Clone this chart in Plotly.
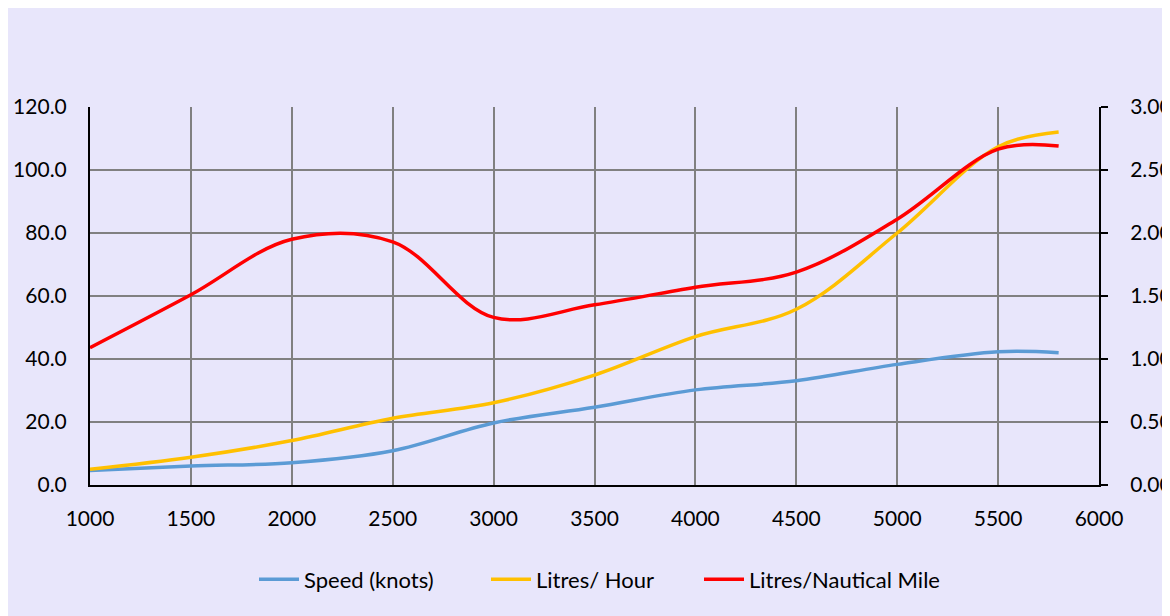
import plotly.graph_objects as go

rpm = [1000, 1500, 2000, 2500, 3000, 3500, 4000, 4500, 5000, 5500, 5800]
speed_knots = [4.6, 6.0, 7.1, 10.9, 19.7, 24.7, 30.2, 33.1, 38.3, 42.3, 42.0]
litres_hour = [5.0, 8.8, 14.1, 21.2, 26.1, 34.9, 47.1, 55.8, 80.0, 107.4, 112.1]
litres_nm = [1.09, 1.51, 1.95, 1.93, 1.33, 1.43, 1.57, 1.69, 2.11, 2.665, 2.69]

W, H = 1170, 616
ML, MR, MT, MB = 82, 79, 99, 139
PW = W - ML - MR
BG = "#E8E6FB"
FONT = "Lato"


def px_to_paper(sx):
    return (sx - 8 - ML) / PW


fig = go.Figure()
fig.add_trace(go.Scatter(x=rpm, y=speed_knots, name="Speed (knots)", mode="lines", legend="legend",
                         line=dict(color="#5B9BD5", width=3.5, shape="spline", smoothing=1)))
fig.add_trace(go.Scatter(x=rpm, y=litres_hour, name="Litres/ Hour", mode="lines", legend="legend2",
                         line=dict(color="#FFC000", width=3.5, shape="spline", smoothing=1)))
fig.add_trace(go.Scatter(x=rpm, y=litres_nm, name="Litres/Nautical Mile", mode="lines", yaxis="y2",
                         legend="legend3",
                         line=dict(color="#FF0000", width=3.5, shape="spline", smoothing=1)))

leg_common = dict(orientation="h", y=-0.25, yanchor="middle", xanchor="left",
                  font=dict(family=FONT, size=22), bgcolor="rgba(0,0,0,0)", itemwidth=40)

fig.update_layout(
    width=W, height=H,
    margin=dict(l=ML, r=MR, t=MT, b=MB),
    paper_bgcolor=BG, plot_bgcolor=BG,
    font=dict(family=FONT, size=21, color="#000000"),
    showlegend=True,
    legend=dict(x=px_to_paper(254), **leg_common),
    legend2=dict(x=px_to_paper(486), **leg_common),
    legend3=dict(x=px_to_paper(699), **leg_common),
    xaxis=dict(range=[1000, 6000], dtick=500, tick0=1000, showgrid=True, automargin=False,
               gridcolor="#808080", gridwidth=1.5, showline=True, linecolor="#000000",
               linewidth=2, ticks="", ticklabelstandoff=14, zeroline=False),
    yaxis=dict(range=[0, 120], dtick=20, tickformat=".1f", showgrid=True, automargin=False,
               gridcolor="#808080", gridwidth=1.5, showline=True, linecolor="#000000",
               linewidth=2, ticks="", ticklabelstandoff=17, zeroline=False),
    yaxis2=dict(range=[0, 3], dtick=0.5, tickformat=".2f", overlaying="y", side="right",
                showgrid=False, showline=True, linecolor="#000000", linewidth=2, automargin=False,
                ticks="outside", ticklen=7, tickwidth=2, tickcolor="#000000",
                ticklabelstandoff=18, zeroline=False),
)

fig.write_html("out.html", post_script="document.body.style.overflow='hidden';")
